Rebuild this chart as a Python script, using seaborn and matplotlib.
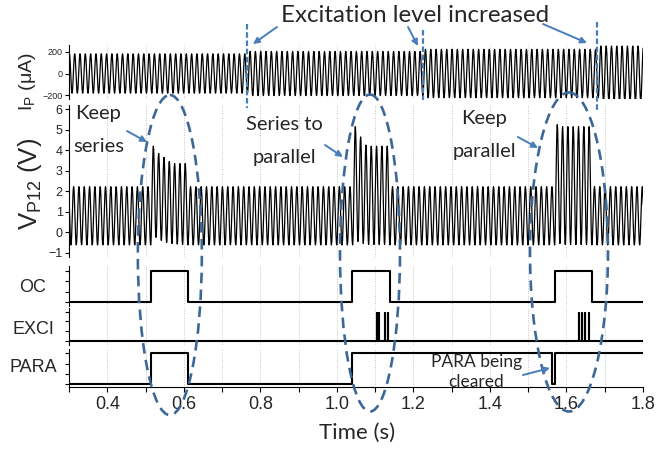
import numpy as np
import matplotlib
matplotlib.use("Agg")
import matplotlib.pyplot as plt
from matplotlib.patches import Ellipse
import seaborn as sns

sns.set_theme(style="white")
plt.rcParams["font.family"] = ["Liberation Sans", "DejaVu Sans"]
plt.rcParams["mathtext.fontset"] = "custom"
plt.rcParams["mathtext.rm"] = "Liberation Sans"
plt.rcParams["mathtext.it"] = "Liberation Sans"
plt.rcParams["mathtext.default"] = "regular"

# ---------------- recorded signals ----------------
T0, T1 = 0.3, 1.8                 # time window (s)
carrier_hz = 72.0                 # excitation frequency
first_crest_s = 0.2982            # a crest instant of V_P12

# primary current I_P: excitation level stepped up three times
ip_step_times = [0.764, 1.226, 1.679]
ip_amplitude = [183, 205, 225, 255]          # uA
ip_first_crest_s = 0.3010

# V_P12: steady swing, and the crests/troughs while OC is asserted
vp_crest = 2.22
vp_trough = -0.62
burst_times = [0.514, 1.040, 1.570]
burst_crests = [[4.20, 3.85, 3.65, 3.45, 3.35, 3.35, 3.35],
                [5.15, 4.65, 4.25, 4.20, 4.20, 4.20, 4.20],
                [5.25, 5.15, 5.15, 5.15, 5.15, 5.15, 5.15]]
burst_troughs = [[-0.25, -0.40, -0.50, -0.55, -0.58, -0.60, -0.62],
                 [-0.45, -0.55, -0.60, -0.60, -0.60, -0.60, -0.62],
                 [-0.55, -0.60, -0.60, -0.60, -0.60, -0.60, -0.62]]

# digital lines, given as toggle instants (every line starts low)
oc_toggles = [0.514, 0.610, 1.040, 1.138, 1.570, 1.666]
exci_spikes = [1.104, 1.111, 1.126, 1.133, 1.632, 1.640, 1.649, 1.658]
exci_level = 0.95
para_toggles = [0.514, 0.610, 1.040, 1.561, 1.570]

# x axis
major_ticks = [0.4, 0.6, 0.8, 1.0, 1.2, 1.4, 1.6, 1.8]
minor_ticks = [0.3, 0.5, 0.7, 0.9, 1.1, 1.3, 1.5, 1.7]
grid_times = [0.4, 0.5, 0.6, 0.7, 0.8, 0.9, 1.0, 1.1, 1.2, 1.3, 1.4, 1.5, 1.6, 1.7]


# ---------------- helpers ----------------
def eased(times, values, n=8):
    """Join successive extrema with half-cosine segments."""
    times = np.asarray(times, float)
    values = np.asarray(values, float)
    s = np.linspace(0, 1, n, endpoint=False)
    w = (1 - np.cos(np.pi * s)) / 2
    tt = (times[:-1, None] + s * np.diff(times)[:, None]).ravel()
    vv = (values[:-1, None] + w * np.diff(values)[:, None]).ravel()
    return np.append(tt, times[-1]), np.append(vv, values[-1])


def crest_grid(t_first):
    period = 1.0 / carrier_hz
    k = np.arange(-1, int((T1 - t_first) / period) + 3)
    return t_first + k * period, period


def logic(toggles, level=1.0):
    t, v, state = [T0], [0.0], 0
    for tg in toggles:
        t += [tg, tg]
        v += [state * level, (1 - state) * level]
        state = 1 - state
    t.append(T1)
    v.append(state * level)
    return np.array(t), np.array(v)


# I_P waveform
ip_ct, ip_per = crest_grid(ip_first_crest_s)
amp = np.array(ip_amplitude)[np.searchsorted(ip_step_times, ip_ct)]
ip_t, ip_v = eased(np.column_stack([ip_ct, ip_ct + ip_per / 2]).ravel(),
                   np.column_stack([amp, -amp]).ravel())

# V_P12 waveform
vp_ct, vp_per = crest_grid(first_crest_s)
cr = np.full(len(vp_ct), vp_crest)
tr = np.full(len(vp_ct), vp_trough)
for start, c_list, t_list in zip(burst_times, burst_crests, burst_troughs):
    idx = np.nonzero(vp_ct >= start)[0][:len(c_list)]
    cr[idx] = c_list
    tr[idx] = t_list
vp_t, vp_v = eased(np.column_stack([vp_ct, vp_ct + vp_per / 2]).ravel(),
                   np.column_stack([cr, tr]).ravel())

oc_t, oc_v = logic(oc_toggles)
# each EXCI spike rises and falls at the same instant
ex_t, ex_v = logic([s for s in exci_spikes for _ in (0, 1)], exci_level)
pa_t, pa_v = logic(para_toggles)

# ---------------- figure ----------------
W, H = 656, 453
L, R = 69, 643
fig = plt.figure(figsize=(W / 100, H / 100), dpi=100)
fig.patch.set_facecolor("white")


def panel(top_px, bottom_px):
    ax = fig.add_axes([L / W, 1 - bottom_px / H, (R - L) / W, (bottom_px - top_px) / H])
    ax.set_facecolor("none")
    ax.set_xlim(T0, T1)
    for side in ("top", "right", "bottom"):
        ax.spines[side].set_visible(False)
    ax.spines["left"].set_color("black")
    ax.spines["left"].set_linewidth(0.8)
    ax.set_xticks([])
    for g in grid_times:
        ax.axvline(g, color="#c4c4c4", lw=0.7, ls=(0, (1, 1.5)), zorder=0)
    ax.tick_params(axis="y", direction="out", length=3, width=0.8, color="black",
                   left=True, pad=1.5)
    return ax


ax_ip = panel(45, 99)
ax_vp = panel(105, 257)
ax_oc = panel(266, 306)
ax_ex = panel(308, 345)
ax_pa = panel(349, 387)

line_kw = dict(estimator=None, sort=False, color="black", legend=False)
sns.lineplot(x=ip_t, y=ip_v, ax=ax_ip, lw=0.9, **line_kw)
sns.lineplot(x=vp_t, y=vp_v, ax=ax_vp, lw=0.9, **line_kw)
sns.lineplot(x=oc_t, y=oc_v, ax=ax_oc, lw=1.5, **line_kw)
sns.lineplot(x=ex_t, y=ex_v, ax=ax_ex, lw=1.5, **line_kw)
sns.lineplot(x=pa_t, y=pa_v, ax=ax_pa, lw=1.5, **line_kw)

ax_ip.set_ylim(-237, 265)
ax_ip.set_yticks([-200, 0, 200])
ax_ip.tick_params(axis="y", labelsize=6.5)
ax_vp.set_ylim(-1.21, 6.21)
ax_vp.set_yticks(range(-1, 7))
ax_vp.tick_params(axis="y", labelsize=9)
ax_oc.set_ylim(-0.129, 1.161)
ax_ex.set_ylim(-0.137, 1.126)
ax_pa.set_ylim(-0.087, 1.139)
for ax in (ax_oc, ax_ex, ax_pa):
    ax.set_yticks([0, 1 / 3, 2 / 3, 1])
    ax.set_yticklabels([])
for ax in (ax_ip, ax_vp, ax_oc, ax_ex, ax_pa):
    ax.set_xlabel("")
    ax.set_ylabel("")

ax_pa.spines["bottom"].set_visible(True)
ax_pa.spines["bottom"].set_color("black")
ax_pa.spines["bottom"].set_linewidth(0.8)
ax_pa.set_xticks(major_ticks)
ax_pa.set_xticks(minor_ticks, minor=True)
ax_pa.set_xticklabels([f"{v:.1f}" for v in major_ticks])
ax_pa.tick_params(axis="x", which="both", direction="out", length=3.5, width=0.8,
                  color="black", bottom=True, labelsize=13, pad=3)

# axis titles
def ftext(px, py, s, **kw):
    fig.text(px / W, 1 - py / H, s, ha="center", va="center", **kw)

ftext(28, 82, "$I_P$ (μA)", rotation=90, fontsize=14)
ftext(30, 184, "$V_{P12}$ (V)", rotation=90, fontsize=18.5)
ftext(33, 287, "OC", fontsize=13)
ftext(33, 330, "EXCI", fontsize=13)
ftext(33, 368, "PARA", fontsize=13)
ftext(357, 433, "Time (s)", fontsize=16, family=["Lato", "DejaVu Sans"])

# ---------------- annotation layer ----------------
ov = fig.add_axes([L / W, 0, (R - L) / W, 1])
ov.set_xlim(T0, T1)
ov.set_ylim(H, 0)
ov.axis("off")
ov.patch.set_alpha(0)

note_blue = "#4a7ebb"
ring_blue = "#3d6796"
px_per_s = (R - L) / (T1 - T0)

for t_mark, y0, y1 in zip(ip_step_times, [24, 30, 22], [108, 100, 112]):
    ov.plot([t_mark, t_mark], [y0, y1], color=note_blue, lw=1.6,
            ls=(0, (2.5, 1.2)), clip_on=False)

for tc, yc, wpx, hpx in [(0.5635, 255, 64, 320), (1.0866, 253, 60, 317),
                         (1.6066, 252, 78, 319)]:
    ov.add_patch(Ellipse((tc, yc), wpx / px_per_s, hpx, fill=False, ec=ring_blue,
                         lw=1.9, ls=(0, (4, 2.4)), clip_on=False))

arrow_kw = dict(arrowstyle="-|>", color=note_blue, lw=1.4, mutation_scale=9,
                shrinkA=0, shrinkB=0)
for (x1, y1), (x2, y2) in [((0.8435, 27), (0.7808, 44)),
                           ((1.1859, 27), (1.2120, 46)),
                           ((1.5387, 24), (1.6537, 43)),
                           ((0.4516, 131), (0.5038, 142)),
                           ((0.9690, 145), (1.0160, 157)),
                           ((1.4730, 137), (1.5256, 148)),
                           ((1.4864, 375), (1.5570, 368))]:
    ov.annotate("", xy=(x2, y2), xytext=(x1, y1), arrowprops=arrow_kw,
                annotation_clip=False)

note_font = ["Lato", "DejaVu Sans"]
ov.text(1.204, 15, "Excitation level increased", ha="center", va="center",
        fontsize=17.4, family=note_font)
ov.text(0.377, 130, "Keep\nseries", ha="center", va="center", fontsize=14.5,
        family=note_font, linespacing=2.15)
ov.text(0.8618, 141, "Series to\nparallel", ha="center", va="center", fontsize=14.5,
        family=note_font, linespacing=2.15)
ov.text(1.3858, 135, "Keep\nparallel", ha="center", va="center", fontsize=14.5,
        family=note_font, linespacing=2.15)
ov.text(1.365, 372, "PARA being\ncleared", ha="center", va="center", fontsize=12.5,
        family=note_font, linespacing=1.3)

fig.savefig("out.png", dpi=100)
